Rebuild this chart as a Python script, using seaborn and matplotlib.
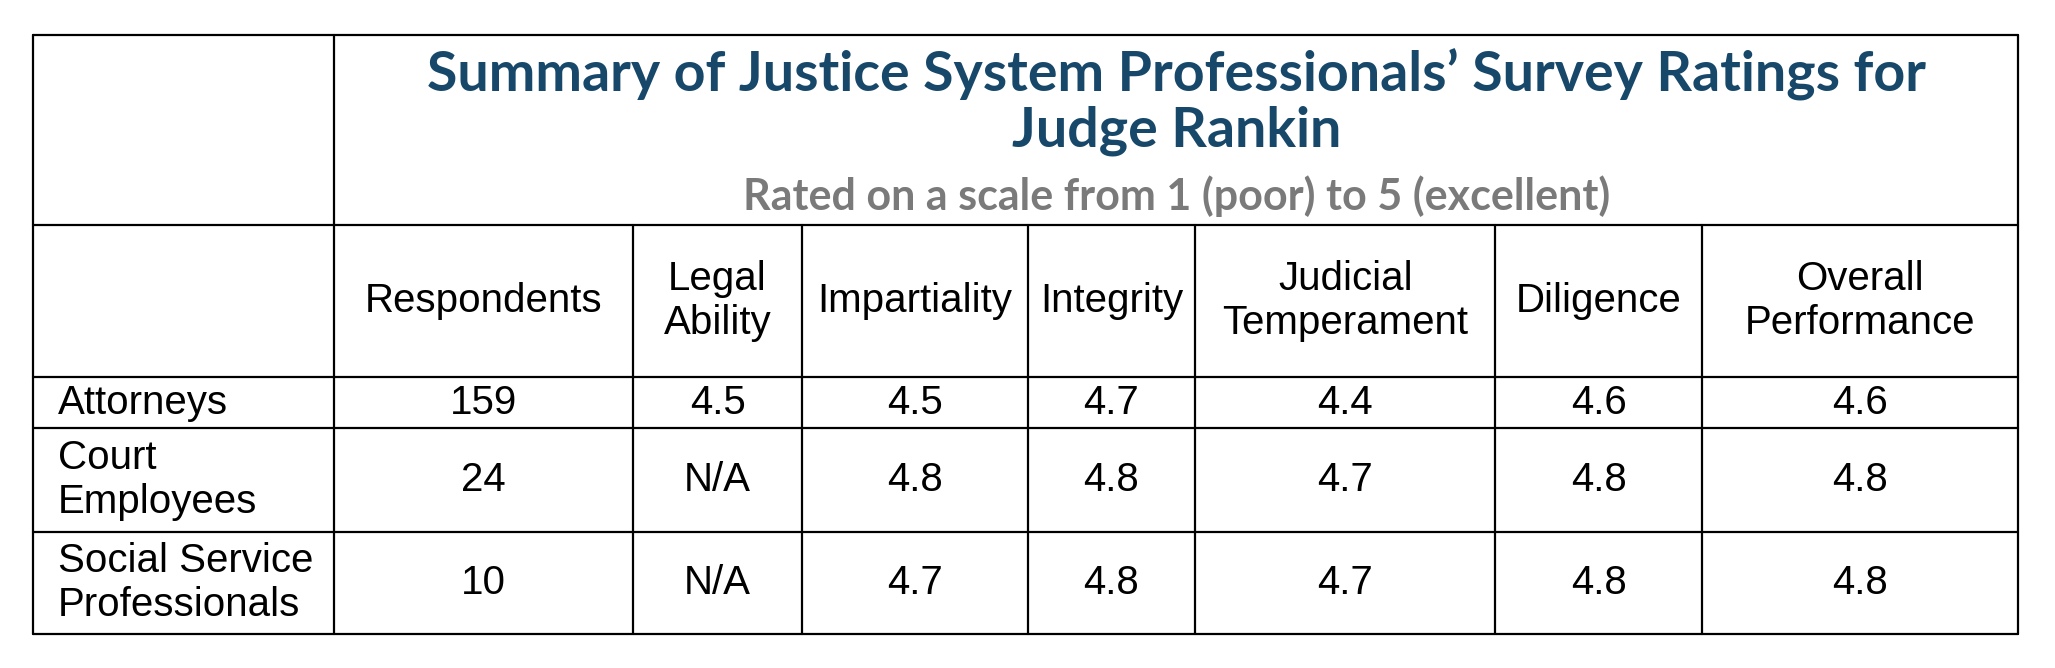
import matplotlib
matplotlib.use("Agg")
import matplotlib.pyplot as plt
import seaborn as sns

sns.set_style("white")

title = "Summary of Justice System Professionals\u2019 Survey Ratings for\nJudge Rankin"
subtitle = "Rated on a scale from 1 (poor) to 5 (excellent)"
columns = ["Respondents", "Legal\nAbility", "Impartiality", "Integrity",
           "Judicial\nTemperament", "Diligence", "Overall\nPerformance"]
groups = ["Attorneys", "Court\nEmployees", "Social Service\nProfessionals"]
respondents = ["159", "24", "10"]
legal_ability = ["4.5", "N/A", "N/A"]
impartiality = ["4.5", "4.8", "4.7"]
integrity = ["4.7", "4.8", "4.8"]
temperament = ["4.4", "4.7", "4.7"]
diligence = ["4.6", "4.8", "4.8"]
overall = ["4.6", "4.8", "4.8"]
table_cols = [respondents, legal_ability, impartiality, integrity,
              temperament, diligence, overall]

# layout in reference-pixel units (1568 x 510 canvas)
col_edges = [25, 255, 483, 612, 784, 912, 1141, 1299, 1540]
row_edges = [27, 172, 288, 327, 406, 484]

fig = plt.figure(figsize=(20.55, 6.68), dpi=100)
ax = fig.add_axes([0, 0, 1, 1])
ax.set_xlim(0, 1568)
ax.set_ylim(510, 0)
ax.axis("off")

lw = 1.6
left, right = col_edges[0], col_edges[-1]
top, bottom = row_edges[0], row_edges[-1]
for y in row_edges:
    ax.plot([left, right], [y, y], color="black", lw=lw)
ax.plot([left, left], [top, bottom], color="black", lw=lw)
ax.plot([right, right], [top, bottom], color="black", lw=lw)
ax.plot([col_edges[1], col_edges[1]], [top, bottom], color="black", lw=lw)
for x in col_edges[2:-1]:
    ax.plot([x, x], [row_edges[1], bottom], color="black", lw=lw)

body = dict(family="Liberation Sans", fontsize=29, color="black")
ax.text((col_edges[1] + right) / 2, 78, title, ha="center", va="center",
        family="Lato", fontweight="bold", fontsize=40, color="#17486a",
        linespacing=1.1)
ax.text((col_edges[1] + right) / 2, 150, subtitle, ha="center", va="center",
        family="Lato", fontweight="bold", fontsize=31, color="#7a7a7a")

hy = (row_edges[1] + row_edges[2]) / 2
for i, name in enumerate(columns):
    cx = (col_edges[i + 1] + col_edges[i + 2]) / 2
    ax.text(cx, hy, name, ha="center", va="center", linespacing=1.2, **body)

for r, g in enumerate(groups):
    cy = (row_edges[r + 2] + row_edges[r + 3]) / 2
    ax.text(col_edges[0] + 19, cy, g, ha="left", va="center", linespacing=1.2, **body)
    for i, vals in enumerate(table_cols):
        cx = (col_edges[i + 1] + col_edges[i + 2]) / 2
        ax.text(cx, cy, vals[r], ha="center", va="center", **body)

fig.savefig("out.png", dpi=100, facecolor="white")
